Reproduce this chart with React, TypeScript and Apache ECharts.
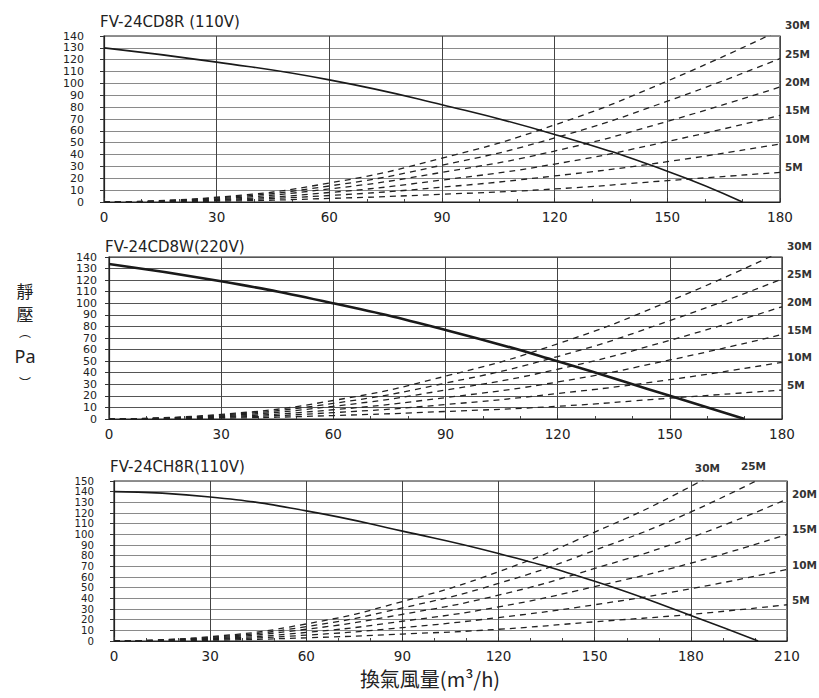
import React, { useEffect, useRef } from "react";
import * as echarts from "echarts";

// Air flow (m³/h) sample points for the duct-resistance curves
const flow = [0, 30, 60, 90, 120, 150, 180, 210];
const ductLabels = ["5M", "10M", "15M", "20M", "25M", "30M"];
// Static pressure (Pa) of each duct length at the flow points above
const duct5M = [0, 0.7, 3, 6.5, 11, 18, 25, 34];
const duct10M = [0, 1.4, 5.5, 12.5, 22, 34, 49, 67];
const duct15M = [0, 2, 8, 18.5, 32, 51, 73, 100];
const duct20M = [0, 2.7, 11, 25, 43, 68, 97, 133];
const duct25M = [0, 3.4, 13.5, 31, 54, 85, 121, 165];
const duct30M = [0, 4, 16, 37, 65, 102, 145, 197];
const ductValues = [duct5M, duct10M, duct15M, duct20M, duct25M, duct30M];

// Fan curves
const fan1Flow = [0, 30, 60, 90, 120, 150, 170];
const fan1Pa = [130, 118, 103, 82, 57, 26, 0];
const fan2Flow = [0, 30, 60, 90, 120, 150, 170];
const fan2Pa = [134, 119, 100, 77, 50, 20, 0];
const fan3Flow = [0, 30, 60, 90, 120, 150, 180, 201];
const fan3Pa = [140, 135, 122, 103, 82, 56, 24, 0];

// Static-pressure tick labels (Pa)
const yTicks140 = [0, 10, 20, 30, 40, 50, 60, 70, 80, 90, 100, 110, 120, 130, 140];
const yTicks150 = [0, 10, 20, 30, 40, 50, 60, 70, 80, 90, 100, 110, 120, 130, 140, 150];

const titles = ["FV-24CD8R (110V)", "FV-24CD8W(220V)", "FV-24CH8R(110V)"];
const xMaxes = [180, 180, 210];
const yTickSets = [yTicks140, yTicks140, yTicks150];

const panels = [
  { grid: { left: 104, top: 36, width: 676, height: 166 }, fanFlow: fan1Flow, fanPa: fan1Pa, fanWidth: 1.6, split: "#8a8a8a", labelMargin: 20, labelSize: 11, titlePos: [100, 23] },
  { grid: { left: 109, top: 257, width: 673, height: 162 }, fanFlow: fan2Flow, fanPa: fan2Pa, fanWidth: 2.6, split: "#555", labelMargin: 12, labelSize: 11, titlePos: [105, 248] },
  { grid: { left: 114, top: 481, width: 673, height: 160 }, fanFlow: fan3Flow, fanPa: fan3Pa, fanWidth: 1.6, split: "#8a8a8a", labelMargin: 20, labelSize: 10.2, titlePos: [110, 468] },
];

// where each duct label is anchored (flow) and nudged (px), per panel
const labelAnchor: Record<string, { q: number; dx: number; dy: number }>[] = [
  {},
  {},
  { "30M": { q: 180, dx: -1, dy: -13 }, "25M": { q: 210, dx: -51, dy: 6 } },
];

export default function App() {
  const ref = useRef<HTMLDivElement>(null);
  useEffect(() => {
    if (!ref.current) return;
    const chart = echarts.init(ref.current, null, { renderer: "svg" });
    const axisFont = "DejaVu Sans";
    const grids: any[] = [];
    const xAxes: any[] = [];
    const yAxes: any[] = [];
    const series: any[] = [];
    const graphics: any[] = [];
    panels.forEach((p, i) => {
      const ticks = yTickSets[i];
      grids.push({ ...p.grid, show: true, borderColor: "#222", borderWidth: 1.2, backgroundColor: "transparent" });
      xAxes.push({
        type: "value", gridIndex: i, min: 0, max: xMaxes[i], interval: 30,
        axisLine: { show: true, lineStyle: { color: "#222", width: 1.2 } },
        axisTick: { show: true, inside: true, length: 4, lineStyle: { color: "#333" } },
        minorTick: { show: true, splitNumber: 3, length: 3, lineStyle: { color: "#444" } },
        axisLabel: { color: "#222", fontSize: 13.5, fontFamily: axisFont, margin: 8, showMinLabel: true, showMaxLabel: true },
        splitLine: { show: true, lineStyle: { color: "#444", width: 1 } },
      });
      yAxes.push({
        type: "value", gridIndex: i, min: ticks[0], max: ticks[ticks.length - 1], interval: ticks[1] - ticks[0],
        axisLine: { show: true, lineStyle: { color: "#222", width: 1.2 } },
        axisTick: { show: true, length: 4, lineStyle: { color: "#333" } },
        axisLabel: { show: false },
        splitLine: { show: true, lineStyle: { color: p.split, width: 1 } },
      });
      series.push({
        type: "line", xAxisIndex: i, yAxisIndex: i, smooth: true, showSymbol: false, clip: true,
        data: p.fanFlow.map((q, k) => [q, p.fanPa[k]]),
        lineStyle: { color: "#1a1a1a", width: p.fanWidth },
        z: 5,
      });
      ductValues.forEach((vals) => {
        const pts = flow.map((q, k) => [q, vals[k]]).filter((pt) => pt[0] <= xMaxes[i]);
        series.push({
          type: "line", xAxisIndex: i, yAxisIndex: i, smooth: true, showSymbol: false, clip: true,
          data: pts,
          lineStyle: { color: "#222", width: 1.3, type: [6, 5] },
          z: 4,
        });
      });
      graphics.push({
        type: "text", left: p.titlePos[0], top: p.titlePos[1] - 9,
        style: { text: titles[i], fontSize: 15, fontFamily: axisFont, fill: "#222" },
      });
    });
    const yName = [
      { t: "靜", y: 290, s: 17 }, { t: "壓", y: 313, s: 17 }, { t: "︵", y: 331, s: 12 }, { t: "Pa", y: 356, s: 18 }, { t: "︶", y: 382, s: 12 },
    ];
    yName.forEach((c) => {
      graphics.push({
        type: "text", x: 25, y: c.y,
        style: { text: c.t, fontSize: c.s, fontFamily: c.t === "Pa" ? "Noto Sans" : "Noto Sans CJK TC", fill: "#222", align: "center", verticalAlign: "middle" },
      });
    });
    graphics.push({
      type: "text", x: 430, y: 678,
      style: { text: "換氣風量(m³/h)", fontSize: 20, fontFamily: "Noto Sans CJK TC", fill: "#222", align: "center", verticalAlign: "middle" },
    });
    chart.setOption({
      animation: false,
      backgroundColor: "#fff",
      grid: grids,
      xAxis: xAxes,
      yAxis: yAxes,
      series,
      graphic: graphics,
    });
    panels.forEach((p, i) => {
      // y tick labels placed through the axis scale
      yTickSets[i].forEach((v) => {
        const pix = chart.convertToPixel({ gridIndex: i }, [0, v]) as number[];
        graphics.push({
          type: "text", x: pix[0] - p.labelMargin, y: pix[1],
          style: { text: String(v), fontSize: p.labelSize, lineHeight: 9, fontFamily: axisFont, fill: "#222", align: "right", verticalAlign: "middle" },
        });
      });
      // duct length labels at the right end of each dashed curve
      ductValues.forEach((vals, d) => {
        const name = ductLabels[d];
        const a = labelAnchor[i][name] || { q: xMaxes[i], dx: 0, dy: 0 };
        const k = flow.indexOf(a.q);
        const pix = chart.convertToPixel({ gridIndex: i }, [flow[k], vals[k]]) as number[];
        graphics.push({
          type: "text", x: pix[0] + 5 + a.dx, y: pix[1] - 5 + a.dy,
          style: { text: name, fontSize: 10.5, fontWeight: "bold", fontFamily: axisFont, fill: "#333", align: "left", verticalAlign: "middle" },
        });
      });
    });
    chart.setOption({ graphic: graphics });
    return () => chart.dispose();
  }, []);
  return <div ref={ref} style={{ position: "fixed", left: 0, top: 0, width: 819, height: 698 }} />;
}
